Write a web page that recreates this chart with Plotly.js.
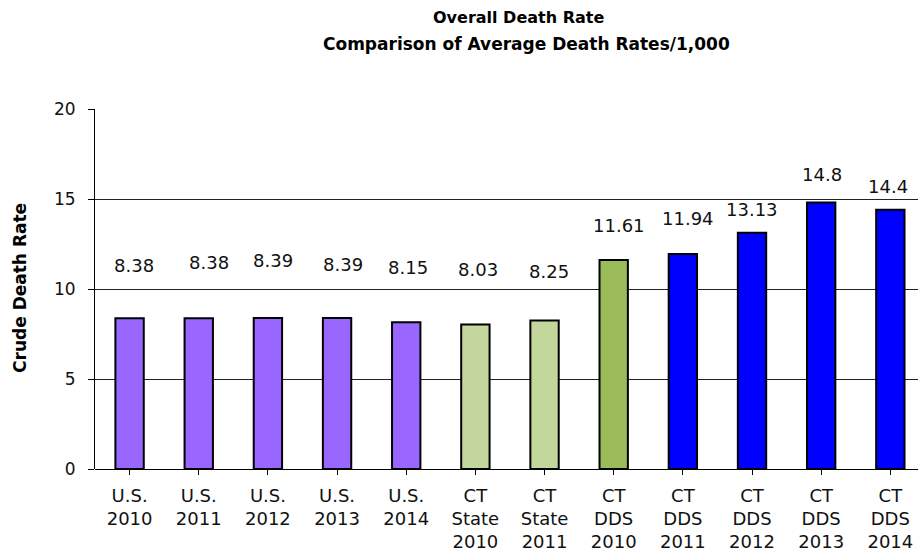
<!DOCTYPE html>
<html>
<head>
<meta charset="utf-8">
<script src="https://cdn.plot.ly/plotly-3.0.1.min.js"></script>
<style>html,body{margin:0;padding:0;background:#fff;}#chart{width:918px;height:552px;}</style>
</head>
<body>
<div id="chart"></div>
<script>
// Data
const categories = ["U.S.<br>2010","U.S.<br>2011","U.S.<br>2012","U.S.<br>2013","U.S.<br>2014",
  "CT<br>State<br>2010","CT<br>State<br>2011","CT<br>DDS<br>2010","CT<br>DDS<br>2011","CT<br>DDS<br>2012","CT<br>DDS<br>2013","CT<br>DDS<br>2014"];
const values = [8.38, 8.38, 8.39, 8.39, 8.15, 8.03, 8.25, 11.61, 11.94, 13.13, 14.8, 14.4];
const valueLabels = ["8.38","8.38","8.39","8.39","8.15","8.03","8.25","11.61","11.94","13.13","14.8","14.4"];
const groups = ["us","us","us","us","us","state","state","dds10","dds","dds","dds","dds"];
const titleLines = ["Overall Death Rate", "Comparison of Average Death Rates/1,000"];
const yTitle = "Crude Death Rate";

// Styles
const FONT = "DejaVu Sans, Verdana, sans-serif";
const groupColors = {us:"#9966FF", state:"#C3D69B", dds10:"#9BBB59", dds:"#0000FF"};
const labelShiftY = [53, 56, 57, 53, 55, 55, 49, 35, 36, 23, 28, 23];
const labelShiftX = [4, 10, 5, 6, 2, 3, 4, 5, 5, 0, 1, -2];

const idx = categories.map((_, i) => i);
const trace = {
  type: "bar",
  x: idx,
  y: values,
  width: 0.41,
  marker: {color: groups.map(g => groupColors[g]), line: {color: "#000", width: 2}},
  hoverinfo: "none"
};

const annotations = idx.map(i => ({
  x: i, y: values[i], xref: "x", yref: "y",
  text: valueLabels[i], showarrow: false,
  xshift: labelShiftX[i], yshift: labelShiftY[i],
  font: {family: FONT, size: 18, color: "#111"}
}));
annotations.push(
  {xref: "paper", yref: "paper", x: 0.515, y: 1.2528, xanchor: "center", yanchor: "middle",
   text: "<b>" + titleLines[0] + "</b>", showarrow: false, font: {family: FONT, size: 16, color: "#000"}},
  {xref: "paper", yref: "paper", x: 0.524, y: 1.1806, xanchor: "center", yanchor: "middle",
   text: "<b>" + titleLines[1] + "</b>", showarrow: false, font: {family: FONT, size: 17, color: "#000"}},
  {xref: "paper", yref: "paper", x: -0.0911, y: 0.503, xanchor: "center", yanchor: "middle", textangle: -90,
   text: "<b>" + yTitle + "</b>", showarrow: false, font: {family: FONT, size: 17, color: "#000"}}
);

const layout = {
  width: 918, height: 552,
  margin: {l: 95, r: 0, t: 109, b: 83},
  paper_bgcolor: "#fff", plot_bgcolor: "#fff",
  showlegend: false,
  font: {family: FONT, color: "#000"},
  xaxis: {
    range: [-0.5, 11.4],
    tickmode: "array", tickvals: idx, ticktext: categories,
    tickson: "boundaries",
    ticks: "outside", ticklen: 5, tickcolor: "#000", tickwidth: 1,
    ticklabelstandoff: 5,
    showline: false, showgrid: false, zeroline: false,
    tickfont: {size: 18, color: "#111"},
    fixedrange: true
  },
  yaxis: {
    range: [0, 20], dtick: 5, tick0: 0,
    ticks: "outside", ticklen: 6, tickcolor: "#000",
    showline: true, linecolor: "#000", linewidth: 1,
    showgrid: true, gridcolor: "#222", gridwidth: 1,
    zeroline: true, zerolinecolor: "#000", zerolinewidth: 1,
    tickfont: {size: 17, color: "#111"},
    ticklabelstandoff: 9,
    fixedrange: true
  },
  annotations: annotations
};

Plotly.newPlot("chart", [trace], layout, {displayModeBar: false, staticPlot: true});
</script>
</body>
</html>
